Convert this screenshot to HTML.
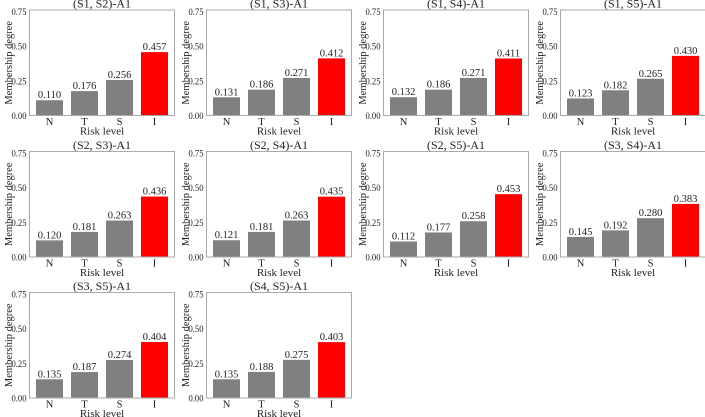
<!DOCTYPE html>
<html><head><meta charset="utf-8"><style>
html,body{margin:0;padding:0;background:#fff;}
svg{display:block;font-family:"Liberation Serif",serif;}
</style></head><body>
<svg id="c" width="705" height="417" viewBox="0 0 705 417"></svg>
<script>
const titles=["(S1, S2)-A1","(S1, S3)-A1","(S1, S4)-A1","(S1, S5)-A1","(S2, S3)-A1","(S2, S4)-A1","(S2, S5)-A1","(S3, S4)-A1","(S3, S5)-A1","(S4, S5)-A1"];
const categories=["N","T","S","I"];
const valN=[0.110,0.131,0.132,0.123,0.120,0.121,0.112,0.145,0.135,0.135];
const valT=[0.176,0.186,0.186,0.182,0.181,0.181,0.177,0.192,0.187,0.188];
const valS=[0.256,0.271,0.271,0.265,0.263,0.263,0.258,0.280,0.274,0.275];
const valI=[0.457,0.412,0.411,0.430,0.436,0.435,0.453,0.383,0.404,0.403];
const yTicks=[0,0.25,0.5,0.75];
const yTickLabels=["0.00","0.25","0.50","0.75"];
const NS="http://www.w3.org/2000/svg";
const svg=document.getElementById('c');
function mk(t,a,p){const e=document.createElementNS(NS,t);for(const k in a)e.setAttribute(k,a[k]);(p||svg).appendChild(e);return e;}
const W=145,H=105.5,colX=[29.5,206.5,383.5,560.5],rowY=[10,151.5,292.5];
for(let i=0;i<titles.length;i++){
  const x0=colX[i%4],y0=rowY[Math.floor(i/4)];
  const g=mk('g',{});
  
  
  const y=v=>y0+H-(v/0.75)*(H-1.5);
  const x=j=>x0+20+j*35;
  const vals=[valN[i],valT[i],valS[i],valI[i]];
  vals.forEach((v,j)=>{
    const r=mk('rect',{x:x(j)-13.5,y:y(v),width:27,height:y0+H-y(v),fill:j==3?'#ff0000':'#808080'},g);
    
    
    const t=mk('text',{x:x(j),y:y(v)-2,'font-size':10.5,'text-anchor':'middle',fill:'#222'},g);
    t.textContent=v.toFixed(3);
    
    
    const c=mk('text',{x:x(j),y:y0+H+9.5,'font-size':10.5,'text-anchor':'middle',fill:'#222'},g);
    c.textContent=categories[j];
    
    
  });
  const b=mk('rect',{x:x0,y:y0,width:W,height:H,fill:'none',stroke:'#aaa','stroke-width':1},g);
  
  
  yTicks.forEach((v,k)=>{
    const t=mk('text',{x:x0-3,y:y(v)+3.5,'font-size':9.5,'text-anchor':'end',fill:'#222',textLength:15,lengthAdjust:'spacingAndGlyphs'},g);
    t.textContent=yTickLabels[k];
    
    
  });
  const tt=mk('text',{x:x0+W/2,y:y0-2.5,'font-size':12,'text-anchor':'middle',fill:'#222'},g);
  tt.textContent=titles[i];
  
  
  const xl=mk('text',{x:x0+W/2,y:y0+H+19,'font-size':11,'text-anchor':'middle',fill:'#222'},g);
  xl.textContent='Risk level';
  
  
  const yl=mk('text',{x:0,y:0,'font-size':10.5,'text-anchor':'middle',fill:'#222',transform:`translate(${x0-17.5},${y0+H/2}) rotate(-90)`},g);
  yl.textContent='Membership degree';
  
  
}
</script>
</body></html>
